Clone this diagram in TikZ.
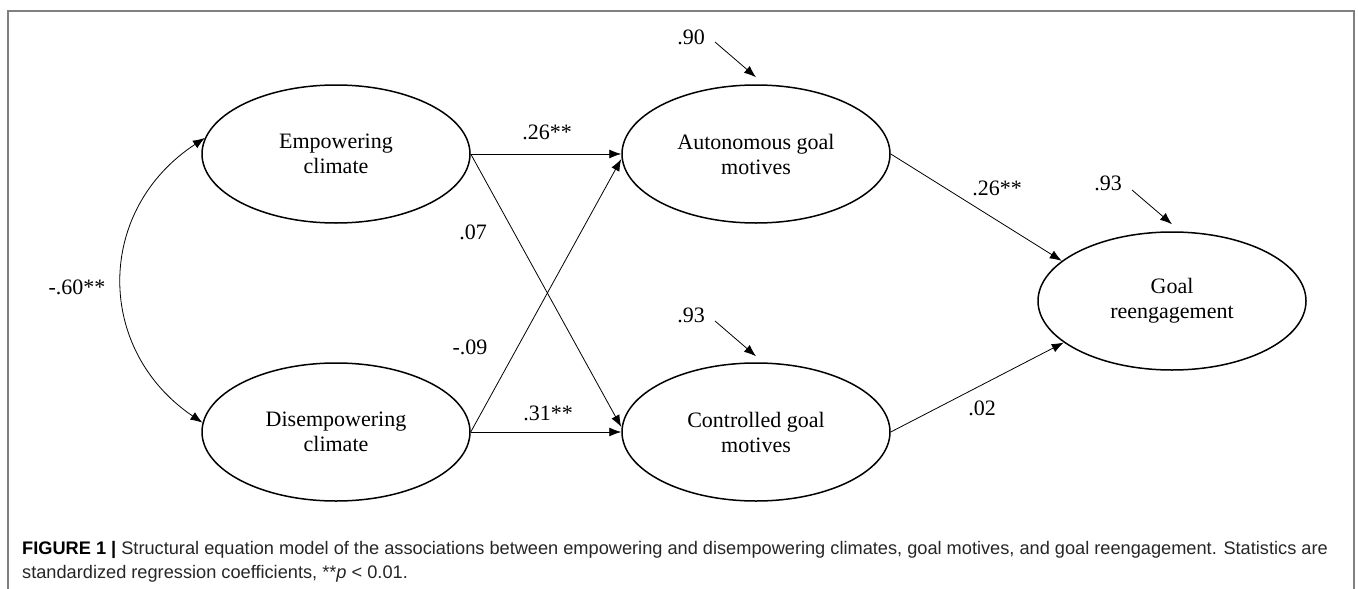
\documentclass[tikz,border=0pt]{standalone}
\usepackage{fontspec}
\setmainfont{Liberation Serif}
\newfontfamily\capfont{Liberation Sans}
\usetikzlibrary{shapes.geometric,arrows.meta}
\begin{document}
\begin{tikzpicture}[x=1pt,y=-1pt,
  latent/.style={ellipse,draw,line width=1.5pt,minimum width=268pt,minimum height=138pt,
    inner sep=0pt,align=center,font=\fontsize{22}{25}\selectfont,
    execute at begin node={\rule{0pt}{25pt}}},
  pathar/.style={line width=0.8pt,-{Latex[length=12pt,width=9pt]}},
  covar/.style={line width=0.8pt,{Latex[length=12pt,width=9pt]}-{Latex[length=12pt,width=9pt]}},
  lbl/.style={font=\fontsize{22}{25}\selectfont,inner sep=0pt},
  capline/.style={anchor=base west,inner sep=0pt,text=black!85,font=\capfont\fontsize{18.2}{24}\selectfont},
  framel/.style={draw=black!50,line width=1.5pt}]
\useasboundingbox (0,0) rectangle (1358,589);
\draw[framel] (8,589) -- (8,11) -- (1354,11) -- (1354,589);

% latent variables
\node[latent] (E) at (336,154) {Empowering\\climate};
\node[latent] (D) at (336,432) {Disempowering\\climate};
\node[latent] (A) at (756,154) {Autonomous goal\\motives};
\node[latent] (C) at (756,432) {Controlled goal\\motives};
\node[latent] (G) at (1172,301) {Goal\\reengagement};

% structural paths
\draw[pathar] (E.east) -- (A.west);
\draw[pathar] (E.east) -- ([yshift=5pt]C.west);
\draw[pathar] (D.east) -- ([yshift=-5pt]A.west);
\draw[pathar] (D.east) -- (C.west);
\draw[pathar] (A.east) -- (G.160);
\draw[pathar] (C.east) -- (G.201);

% residuals
\coordinate (rA) at (715,42);
\coordinate (rC) at (715,321);
\coordinate (rG) at (1132,190);
\draw[pathar] (rA) -- ([yshift=7pt]A.north);
\draw[pathar] (rC) -- ([yshift=6pt]C.north);
\draw[pathar] (rG) -- ([yshift=7pt]G.north);

% covariance
\draw[covar] (E.173) .. controls (95,210) and (95,350) .. (D.176);

% coefficient labels
\node[lbl] (lEA) at (547,132) {.26**};
\node[lbl] (lEC) at (473,232) {.07};
\node[lbl] (lDA) at (470,347) {-.09};
\node[lbl] (lDC) at (548,413) {.31**};
\node[lbl] (lAG) at (997,188) {.26**};
\node[lbl] (lCG) at (982,408) {.02};
\node[lbl] (lrA) at (691,37) {.90};
\node[lbl] (lrC) at (691,315) {.93};
\node[lbl] (lrG) at (1108,183) {.93};
\node[lbl] (lED) at (77,287) {-.60**};

% caption
\node[capline] (cap1) at (22,554) {\textcolor{black}{\textbf{FIGURE 1 |}} Structural equation model of the associations between empowering and disempowering climates, goal motives, and goal reengagement. Statistics are};
\node[capline] (cap2) at (22,578) {standardized regression coefficients, **\textit{p} < 0.01.};
\end{tikzpicture}
\end{document}
